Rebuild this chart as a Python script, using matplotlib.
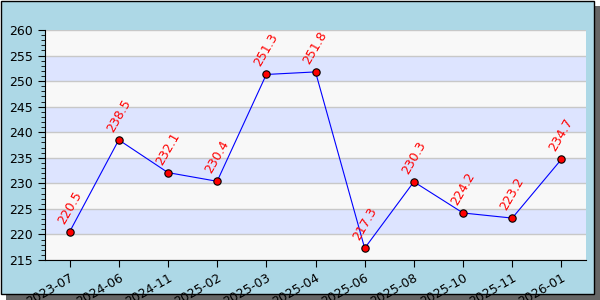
import matplotlib.pyplot as plt
from matplotlib.patches import Rectangle
from matplotlib.ticker import MultipleLocator

months = ["2023-07", "2024-06", "2024-11", "2025-02", "2025-03", "2025-04",
          "2025-06", "2025-08", "2025-10", "2025-11", "2026-01"]
values = [220.5, 238.5, 232.1, 230.4, 251.3, 251.8, 217.3, 230.3, 224.2, 223.2, 234.7]

fig = plt.figure(figsize=(6, 3), dpi=100)
fig.patch.set_facecolor("white")

# shadow + framed background
fig.patches.append(Rectangle((6 / 600, 0), 594 / 600, 294 / 300, transform=fig.transFigure,
                             facecolor="#666666", edgecolor="none", zorder=-3))
fig.patches.append(Rectangle((0.5 / 600, 6 / 300), 593 / 600, 293.5 / 300, transform=fig.transFigure,
                             facecolor="#add8e6", edgecolor="black", linewidth=1, zorder=-2))

ax = fig.add_axes([45 / 600, 40 / 300, 541 / 600, 230 / 300])
ax.set_facecolor("#f8f8f8")
ax.set_ylim(215, 260)
ax.set_xlim(-0.5, len(months) - 0.5)

for lo in range(220, 260, 10):
    ax.axhspan(lo, lo + 5, color="#dde4ff", zorder=0, linewidth=0)
ax.yaxis.grid(True, color="#c8c8c8", linewidth=1, zorder=1)
ax.set_axisbelow(True)

x = list(range(len(months)))
ax.plot(x, values, color="blue", linewidth=0.8, zorder=3)
ax.scatter(x, values, s=28, color="red", edgecolor="black", linewidth=0.8, zorder=4)

for xi, v in zip(x, values):
    ax.annotate(f"{v}", (xi, v), xytext=(0, 4), textcoords="offset points",
                ha="center", va="bottom", rotation=60, color="red", fontsize=9, zorder=5)

ax.set_xticks(x)
ax.set_xticklabels(months, rotation=30, ha="right", rotation_mode="anchor")
ax.yaxis.set_major_locator(MultipleLocator(5))
ax.yaxis.set_minor_locator(MultipleLocator(1))
ax.tick_params(axis="both", labelsize=9, length=5)
ax.tick_params(axis="x", pad=3)
ax.tick_params(axis="y", which="minor", length=3)
for side in ["top", "right"]:
    ax.spines[side].set_visible(False)

fig.savefig("out.png", dpi=100)
